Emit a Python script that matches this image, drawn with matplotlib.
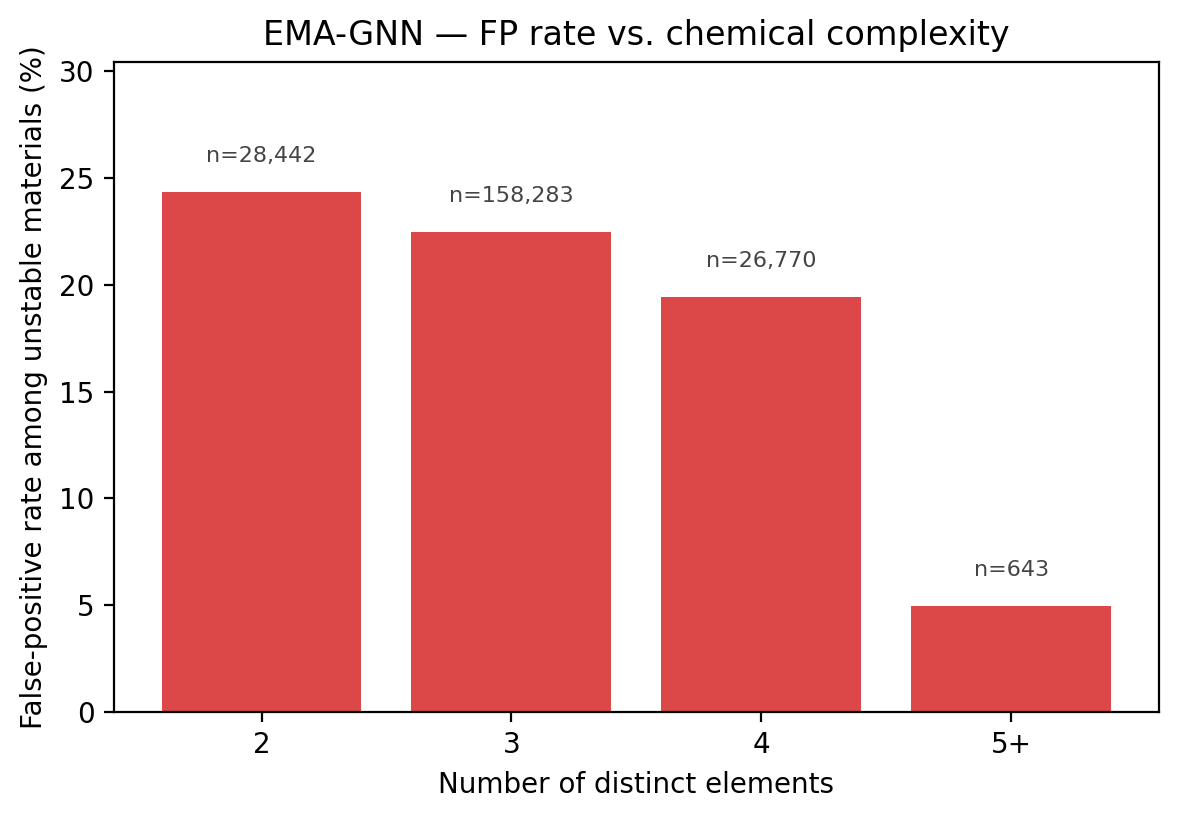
import numpy as np
import matplotlib
matplotlib.use("Agg")
import matplotlib.pyplot as plt

# ---------- data ----------
categories = ["2", "3", "4", "5+"]
fp_rate = [24.35, 22.47, 19.42, 4.97]
n_counts = [28442, 158283, 26770, 643]

x = np.arange(len(categories))
fig, ax = plt.subplots(figsize=(5.895, 4.09), dpi=200)
ax.bar(x, fp_rate, width=0.8, color="#d62728", alpha=0.85)
for i, (v, n) in enumerate(zip(fp_rate, n_counts)):
    ax.text(i, v + max(fp_rate) * 0.05, f"n={n:,}", ha="center", va="bottom",
            fontsize=8, color="#444444")
ax.set_xticks(x, categories)
ax.set_ylim(0, max(fp_rate) * 1.25)
ax.set_xlabel("Number of distinct elements")
ax.set_ylabel("False-positive rate among unstable materials (%)")
ax.set_title("EMA-GNN — FP rate vs. chemical complexity", fontsize=12)
fig.subplots_adjust(left=0.0967, right=0.983, bottom=0.1296, top=0.9242)
plt.savefig("out.png", dpi=200)
